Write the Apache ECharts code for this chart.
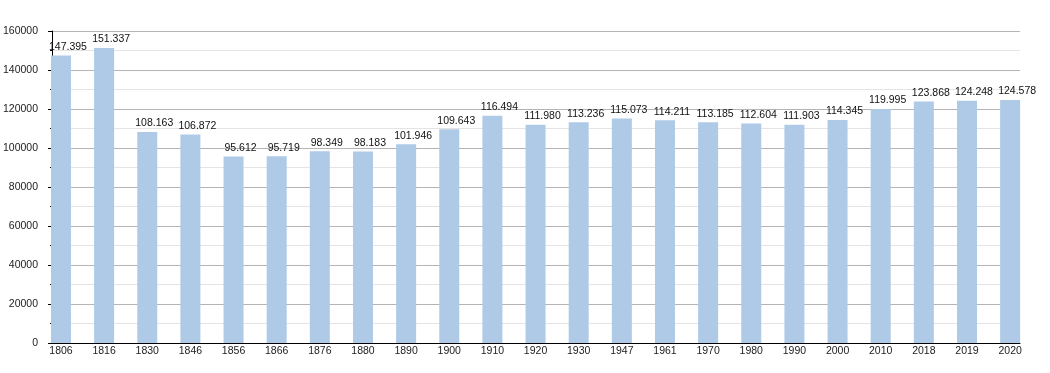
<!DOCTYPE html>
<html><head><meta charset="utf-8">
<script src="https://cdn.jsdelivr.net/npm/echarts@6/dist/echarts.min.js"></script>
<style>html,body{margin:0;padding:0;background:#fff}#c{width:1050px;height:373px}</style>
</head><body><div id="c"></div>
<script>
const years = ['1806','1816','1830','1846','1856','1866','1876','1880','1890','1900','1910','1920','1930','1947','1961','1970','1980','1990','2000','2010','2018','2019','2020'];
const population = [147395,151337,108163,106872,95612,95719,98349,98183,101946,109643,116494,111980,113236,115073,114211,113185,112604,111903,114345,119995,123868,124248,124578];
const yTicks = {min:0, max:160000, interval:20000};

function fmt(v){ return String(v).replace(/\B(?=(\d{3})+(?!\d))/g,'.'); }

const chart = echarts.init(document.getElementById('c'), null, {renderer:'canvas'});
const font = 'Liberation Sans, Arial, sans-serif';
chart.setOption({
  animation:false,
  backgroundColor:'#fff',
  grid:[
    {left:50, right:30, top:31, bottom:30},
    {left:39.4, width:992.3, top:31, bottom:30}
  ],
  xAxis:[
    {gridIndex:0, type:'value', min:0, max:1, axisLine:{show:true, lineStyle:{color:'#000', width:1}},
     axisTick:{show:false}, axisLabel:{show:false}, splitLine:{show:false}},
    {gridIndex:1, type:'category', data:years, axisLine:{show:false}, axisTick:{show:false},
     axisLabel:{fontSize:10.5, color:'#222', fontFamily:font, margin:3, interval:0}}
  ],
  yAxis:[
    {gridIndex:0, type:'value', min:yTicks.min, max:yTicks.max, interval:yTicks.interval,
     axisLine:{show:true, lineStyle:{color:'#000', width:1}},
     axisTick:{show:true, length:4, lineStyle:{color:'#000'}},
     minorTick:{show:true, splitNumber:2, length:2, lineStyle:{color:'#000'}},
     axisLabel:{fontSize:10.5, color:'#222', fontFamily:font, margin:14, formatter:v=>String(v)},
     splitLine:{show:true, lineStyle:{color:'#b4b4b4', width:1}},
     minorSplitLine:{show:true, lineStyle:{color:'#e4e4e4', width:1}}},
    {gridIndex:1, type:'value', min:yTicks.min, max:yTicks.max, show:false, splitLine:{show:false}}
  ],
  series:[{
    type:'bar', xAxisIndex:1, yAxisIndex:1, data:population, barWidth:20,
    itemStyle:{color:'#aecae7'},
    label:{show:true, position:'top', distance:3, offset:[7,0], fontSize:10.5, color:'#111', fontFamily:font,
      formatter:p=>fmt(p.value)}
  }]
});
</script></body></html>
